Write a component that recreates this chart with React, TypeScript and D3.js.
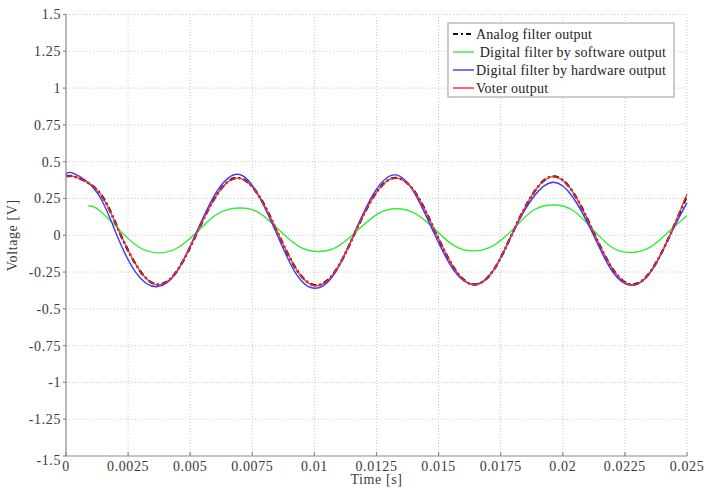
import React from 'react';
import * as d3 from 'd3';

// values (time in s, voltage in V)
const analogT = [0, 0.0004, 0.00134, 0.00213, 0.00293, 0.00372, 0.00452, 0.00531, 0.00611, 0.0069, 0.0077, 0.00849, 0.00929, 0.01008, 0.01088, 0.01167, 0.01247, 0.01326, 0.01406, 0.01485, 0.01565, 0.01644, 0.01724, 0.01803, 0.01883, 0.01962, 0.02042, 0.02121, 0.02201, 0.0228, 0.0236, 0.02439, 0.025];
const analogV = [0.4, 0.395, 0.29, 0.03, -0.23, -0.335, -0.23, 0.03, 0.285, 0.39, 0.285, 0.03, -0.235, -0.34, -0.235, 0.03, 0.285, 0.39, 0.29, 0.03, -0.23, -0.335, -0.23, 0.035, 0.29, 0.4, 0.29, 0.03, -0.23, -0.335, -0.23, 0.03, 0.27];

const voterT = analogT;
const voterV = [0.4, 0.395, 0.29, 0.03, -0.23, -0.337, -0.23, 0.03, 0.285, 0.388, 0.285, 0.03, -0.235, -0.343, -0.235, 0.03, 0.285, 0.39, 0.29, 0.03, -0.23, -0.337, -0.23, 0.035, 0.29, 0.398, 0.29, 0.03, -0.23, -0.337, -0.23, 0.03, 0.28];

const hwT = [0, 0.0003, 0.00125, 0.002, 0.0028, 0.00365, 0.00447, 0.00528, 0.00608, 0.0069, 0.00765, 0.00843, 0.00922, 0.01003, 0.01085, 0.01165, 0.01245, 0.01325, 0.01402, 0.0148, 0.0156, 0.0164, 0.01722, 0.01802, 0.01882, 0.01962, 0.0204, 0.02118, 0.02197, 0.02277, 0.02358, 0.02438, 0.025];
const hwV = [0.41, 0.42, 0.29, 0.02, -0.25, -0.35, -0.245, 0.03, 0.3, 0.415, 0.3, 0.03, -0.25, -0.36, -0.25, 0.03, 0.3, 0.41, 0.29, 0.02, -0.235, -0.333, -0.235, 0.03, 0.26, 0.36, 0.26, 0.02, -0.24, -0.34, -0.24, 0.02, 0.22];

const swT = [0.0009, 0.00134, 0.00213, 0.00293, 0.00375, 0.00455, 0.00535, 0.00615, 0.00705, 0.0078, 0.00858, 0.00937, 0.01016, 0.01095, 0.01175, 0.01255, 0.0133, 0.01408, 0.01485, 0.01562, 0.0164, 0.0172, 0.01802, 0.01882, 0.01962, 0.0204, 0.02118, 0.02196, 0.0227, 0.02352, 0.0243, 0.025];
const swV = [0.2, 0.17, 0.04, -0.08, -0.12, -0.08, 0.035, 0.15, 0.185, 0.15, 0.035, -0.075, -0.11, -0.075, 0.035, 0.145, 0.18, 0.145, 0.04, -0.07, -0.106, -0.07, 0.045, 0.17, 0.206, 0.17, 0.045, -0.08, -0.117, -0.08, 0.03, 0.133];

const xTicks = [0, 0.0025, 0.005, 0.0075, 0.01, 0.0125, 0.015, 0.0175, 0.02, 0.0225, 0.025];
const xTickLabels = ['0', '0.0025', '0.005', '0.0075', '0.01', '0.0125', '0.015', '0.0175', '0.02', '0.0225', '0.025'];
const yTicks = [-1.5, -1.25, -1, -0.75, -0.5, -0.25, 0, 0.25, 0.5, 0.75, 1, 1.25, 1.5];
const yTickLabels = ['-1.5', '-1.25', '-1', '-0.75', '-0.5', '-0.25', '0', '0.25', '0.5', '0.75', '1', '1.25', '1.5'];

const legendLabels = ['Analog filter output', ' Digital filter by software output', 'Digital filter by hardware output', 'Voter output'];

const W = 722;
const H = 490;
const margin = { top: 14.5, right: 35, bottom: 34, left: 66 };
const FONT = '"Liberation Serif", "Times New Roman", serif';

const App = () => {
  const x = d3.scaleLinear().domain([0, 0.025]).range([margin.left, W - margin.right]);
  const y = d3.scaleLinear().domain([-1.5, 1.5]).range([H - margin.bottom, margin.top]);

  const line = d3
    .line<[number, number]>()
    .x((d) => x(d[0]))
    .y((d) => y(d[1]))
    .curve(d3.curveNatural);

  const zip = (t: number[], v: number[]) => t.map((d, i) => [d, v[i]] as [number, number]);

  const series = [
    { key: 'analog', d: line(zip(analogT, analogV)), color: '#111', width: 2.4, dash: '6,3,2,3' },
    { key: 'sw', d: line(zip(swT, swV)), color: '#33ee33', width: 1.4, dash: null },
    { key: 'hw', d: line(zip(hwT, hwV)), color: '#3838ff', width: 1.4, dash: null },
    { key: 'voter', d: line(zip(voterT, voterV)), color: '#ff2a2a', width: 1.3, dash: null },
  ];
  const legendColors = ['#111', '#33ee33', '#3838ff', '#ff2a2a'];

  const x0 = margin.left;
  const x1 = W - margin.right;
  const y0 = H - margin.bottom;
  const y1 = margin.top;

  const lg = { x: 448, y: 23, w: 226, h: 74 };

  return (
    <svg width={W} height={H} style={{ position: 'absolute', left: 0, top: 0, background: '#fff' }}>
      <rect x={0} y={0} width={W} height={H} fill="#fff" />
      {/* grid */}
      <g stroke="#c8c8c8" strokeWidth={1} strokeDasharray="1,2">
        {xTicks.slice(1).map((t) => (
          <line key={'gx' + t} x1={x(t)} x2={x(t)} y1={y0} y2={y1} />
        ))}
        {yTicks.slice(1).map((t) => (
          <line key={'gy' + t} x1={x0} x2={x1} y1={y(t)} y2={y(t)} />
        ))}
      </g>

      {/* series */}
      {series.map((s) => (
        <path
          key={s.key}
          d={s.d || ''}
          fill="none"
          stroke={s.color}
          strokeWidth={s.width}
          strokeDasharray={s.dash || undefined}
        />
      ))}

      {/* axes */}
      <g stroke="#8a8a8a" strokeWidth={1.2}>
        <line x1={x0} x2={x0} y1={y1} y2={y0} />
        <line x1={x0} x2={x1} y1={y0} y2={y0} />
        {xTicks.map((t) => (
          <line key={'tx' + t} x1={x(t)} x2={x(t)} y1={y0} y2={y0 - 4} />
        ))}
        {yTicks.map((t) => (
          <line key={'ty' + t} x1={x0 - 3} x2={x0} y1={y(t)} y2={y(t)} />
        ))}
      </g>

      <g fontFamily={FONT} fontSize={14} fill="#3a3a3a" letterSpacing={0.6}>
        {yTicks.map((t, i) => (
          <text key={'ly' + t} x={x0 - 5} y={y(t) + (i === 0 ? 4 : 0)} dy="0.35em" textAnchor="end">
            {yTickLabels[i]}
          </text>
        ))}
        {xTicks.map((t, i) => (
          <text key={'lx' + t} x={x(t)} y={y0 + 14.5} textAnchor="middle">
            {xTickLabels[i]}
          </text>
        ))}
        <text x={(x0 + x1) / 2} y={y0 + 28} textAnchor="middle">
          Time [s]
        </text>
        <text transform={`translate(17,${(y0 + y1) / 2}) rotate(-90)`} textAnchor="middle">
          Voltage [V]
        </text>
      </g>

      {/* legend */}
      <g fontFamily={FONT} fontSize={14} fill="#222" letterSpacing={0.25}>
        <rect x={lg.x} y={lg.y} width={lg.w} height={lg.h} fill="#fff" stroke="#999" strokeWidth={1} />
        {legendLabels.map((l, i) => (
          <g key={l} transform={`translate(${lg.x},${lg.y + 11 + i * 18})`}>
            <line
              x1={5}
              x2={26}
              y1={0}
              y2={0}
              stroke={legendColors[i]}
              strokeWidth={i === 0 ? 2 : 1.4}
              strokeDasharray={i === 0 ? '5,3,2,3' : undefined}
            />
            <text x={28} y={0} dy="0.33em" style={{ whiteSpace: 'pre' }}>
              {l}
            </text>
          </g>
        ))}
      </g>
    </svg>
  );
};

export default App;
